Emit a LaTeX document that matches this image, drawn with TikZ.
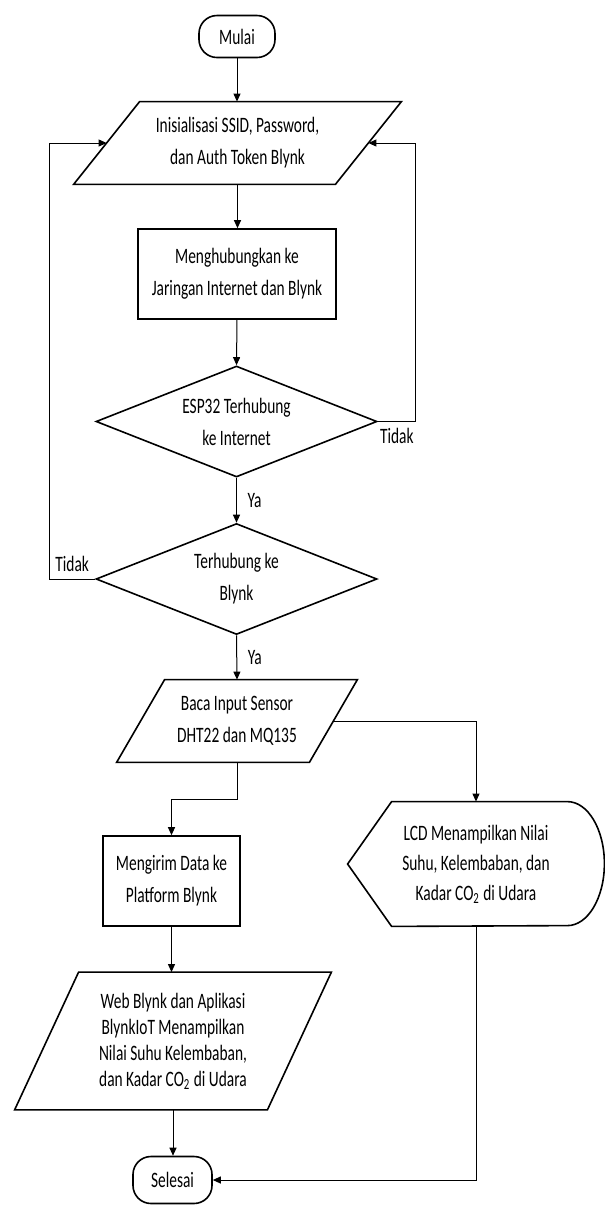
\documentclass[tikz,border=0pt]{standalone}
\usepackage{fontspec}
\setmainfont{Carlito}[FakeStretch=0.7]
\usetikzlibrary{shapes.geometric,arrows.meta}

\newcommand{\ioshape}[2]{\draw[line width=0.8pt] (#1.south west) -- ([xshift=#2]#1.north west) -- (#1.north east) -- ([xshift=-#2]#1.south east) -- cycle;}

\begin{document}
\begin{tikzpicture}[x=0.5pt, y=-0.5pt, font=\fontsize{11}{16}\selectfont]
  \tikzstyle{terminal}=[draw, line width=0.8pt, rounded corners=9pt, minimum width=38pt, minimum height=21pt, inner sep=1pt]
  \tikzstyle{process}=[draw, line width=0.8pt, rectangle, align=center, inner sep=2pt]
  \tikzstyle{io}=[rectangle, align=center, inner sep=0pt]
  \tikzstyle{decision}=[draw, line width=0.8pt, diamond, aspect=2.5, align=center, inner sep=0pt, minimum width=140.5pt, minimum height=55.5pt]
  \tikzstyle{flow}=[-{Triangle[length=4pt,width=3.5pt]}, line width=0.5pt]

  \useasboundingbox (0,0) rectangle (605,1207);

  \node[terminal] (mulai) at (237,36.5) {Mulai};
  \node[io, minimum width=163.5pt, minimum height=41pt] (init) at (237.5,143) {Inisialisasi SSID, Password,\\ dan Auth Token Blynk};
  \node[process, minimum width=99pt, minimum height=45pt] (conn) at (237,274) {Menghubungkan ke\\ Jaringan Internet dan Blynk};
  \node[decision] (cek1) at (236.5,421.5) {ESP32 Terhubung\\ ke Internet};
  \node[decision] (cek2) at (236.5,579) {Terhubung ke\\ Blynk};
  \node[io, minimum width=120pt, minimum height=41pt] (baca) at (237,721) {Baca Input Sensor\\ DHT22 dan MQ135};
  \node[process, minimum width=68.5pt, minimum height=45pt] (kirim) at (171.5,881) {Mengirim Data ke\\ Platform Blynk};
  \node[io, minimum width=158pt, minimum height=68.5pt, font=\fontsize{11}{13}\selectfont] (web) at (173,1041) {Web Blynk dan Aplikasi\\ BlynkIoT Menampilkan\\ Nilai Suhu Kelembaban,\\ dan Kadar CO\textsubscript{2} di Udara};
  \node[terminal, minimum width=39.5pt, minimum height=23.5pt] (selesai) at (172.5,1180) {Selesai};
  \node[minimum width=128pt, minimum height=62pt, align=center, font=\fontsize{11}{15}\selectfont] (lcd) at (476,864) {LCD Menampilkan Nilai\\ Suhu, Kelembaban, dan\\ Kadar CO\textsubscript{2} di Udara};

  % input/output boxes
  \ioshape{init}{33pt}
  \ioshape{baca}{24pt}
  \ioshape{web}{32pt}

  % display shape
  \draw[line width=0.8pt] (lcd.west) -- ([xshift=22pt]lcd.north west) -- ([xshift=-18.5pt]lcd.north east)
    arc[start angle=90, end angle=-90, x radius=18.5pt, y radius=31pt] -- ([xshift=22pt]lcd.south west) -- cycle;

  \draw[flow] (mulai.south) -- (mulai.south |- init.north);
  \draw[flow] (init.south) -- (init.south |- conn.north);
  \draw[flow] (conn.south) -- (cek1.north);
  \draw[flow] (cek1.south) -- node[right, xshift=2pt] (ya1) {Ya} (cek2.north);
  \draw[flow] (cek1.east) -- node[below] (tidak1) {Tidak} ++(38,0) |- ([xshift=-16.5pt]init.east);
  \draw[flow] (cek2.west) -- node[above] (tidak2) {Tidak} ++(-46,0) |- ([xshift=16.5pt]init.west);
  \draw[flow] (cek2.south) -- node[right, xshift=2pt] (ya2) {Ya} (baca.north);
  \draw[flow] ([xshift=-12pt]baca.east) -| (lcd.north);
  \draw[flow] (baca.south) -- ++(0,37) -| (kirim.north);
  \draw[flow] (kirim.south) -- (kirim.south |- web.north);
  \draw[flow] (web.south) -- (web.south |- selesai.north);
  \draw[flow] (lcd.south) |- (selesai.east);

\end{tikzpicture}
\end{document}
